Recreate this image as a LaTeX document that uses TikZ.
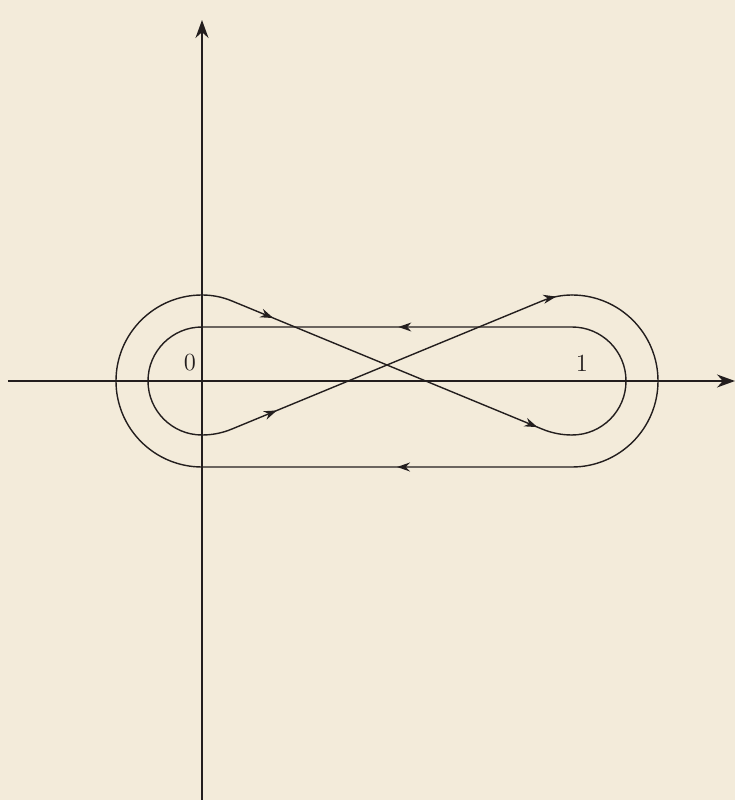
\documentclass[tikz,border=0pt]{standalone}
\usepackage{xcolor}
\usetikzlibrary{arrows.meta,decorations.markings}
\definecolor{paper}{RGB}{243,235,218}
\definecolor{ink}{RGB}{35,30,30}

\begin{document}
\begin{tikzpicture}[x=1cm,y=1cm,>={Stealth[length=3.6mm,width=2.6mm]},
  curve/.style={ink, line width=0.8pt, line cap=round},
  flow/.style={postaction={decorate, decoration={markings,
    mark=at position #1 with {\arrow{Stealth[length=2.6mm,width=1.8mm]}}}}}]
  \useasboundingbox[fill=paper] (-4.04,-8.38) rectangle (10.66,7.62);

  % axes
  \draw[ink, line width=0.9pt, ->] (-3.88,0) -- (10.66,0);
  \draw[ink, line width=0.9pt, ->] (0,-8.38) -- (0,7.22);
  \node[ink, font=\fontsize{14}{14}\selectfont] (zero) at (-0.24,0.36) {0};
  \node[ink, font=\fontsize{14}{14}\selectfont] (one) at (7.6,0.36) {1};

  % outer top left, across to inner bottom right
  \draw[curve, flow=0.19, flow=0.91]
    (0,1.72) .. controls (0.205,1.72) and (0.403,1.681) .. (0.593,1.603)
    -- (6.807,-0.963) .. controls (6.997,-1.041) and (7.195,-1.08) .. (7.4,-1.08);
  % inner loop back along the top
  \draw[curve, flow=0.484]
    (7.4,-1.08) arc[start angle=-90, end angle=90, radius=1.08]
    -- (0,1.08) arc[start angle=90, end angle=270, radius=1.08];
  % inner bottom left, across to outer top right
  \draw[curve, flow=0.2, flow=0.96]
    (0,-1.08) .. controls (0.205,-1.08) and (0.403,-1.041) .. (0.593,-0.963)
    -- (6.807,1.603) .. controls (6.997,1.681) and (7.195,1.72) .. (7.4,1.72);
  % outer loop back along the bottom
  \draw[curve, flow=0.489]
    (7.4,1.72) arc[start angle=90, end angle=-90, radius=1.72]
    -- (0,-1.72) arc[start angle=270, end angle=90, radius=1.72];
\end{tikzpicture}
\end{document}
